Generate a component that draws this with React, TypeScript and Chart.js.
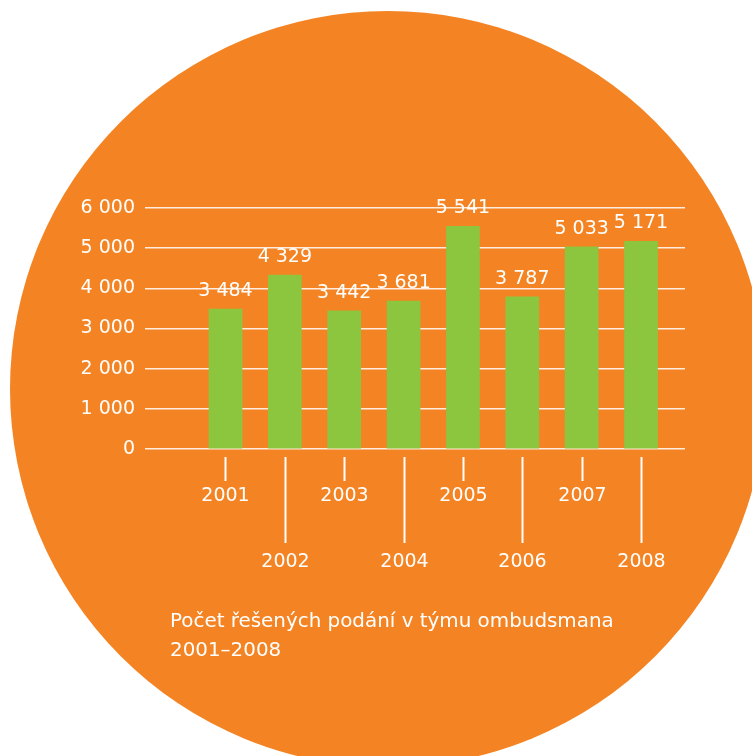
import React, { useEffect, useRef } from "react";
import { Chart, registerables } from "chart.js";

Chart.register(...registerables);

const years = [2001, 2002, 2003, 2004, 2005, 2006, 2007, 2008];
const values = [3484, 4329, 3442, 3681, 5541, 3787, 5033, 5171];
const yTicks = [0, 1000, 2000, 3000, 4000, 5000, 6000];
const caption = ["Počet řešených podání v týmu ombudsmana", "2001–2008"];

const ORANGE = "#F48423";
const GREEN = "#8CC63F";
const WHITE = "#FFFFFF";
const FONT = "'DejaVu Sans', 'Liberation Sans', sans-serif";

const fmt = (v: number) => String(v).replace(/\B(?=(\d{3})+(?!\d))/g, " ");

const labelsPlugin = {
  id: "customLabels",
  afterDatasetsDraw(chart: any) {
    const ctx = chart.ctx;
    const meta = chart.getDatasetMeta(0);
    ctx.save();
    ctx.fillStyle = WHITE;
    ctx.font = `19px ${FONT}`;
    ctx.textAlign = "center";
    ctx.textBaseline = "middle";
    meta.data.forEach((bar: any, i: number) => {
      ctx.fillText(fmt(values[i]), bar.x, bar.y - 18);
    });
    ctx.restore();
  },
  afterDraw(chart: any) {
    const ctx = chart.ctx;
    const xs = chart.scales.x;
    const base = chart.chartArea.bottom;
    ctx.save();
    ctx.strokeStyle = WHITE;
    ctx.fillStyle = WHITE;
    ctx.lineWidth = 2;
    ctx.font = `19px ${FONT}`;
    ctx.textAlign = "center";
    ctx.textBaseline = "middle";
    years.forEach((yr, i) => {
      const x = Math.round(xs.getPixelForValue(yr)) + 0.5;
      const long = i % 2 === 1;
      const y0 = base + 8;
      const y1 = long ? base + 94 : base + 32;
      ctx.beginPath();
      ctx.moveTo(x, y0);
      ctx.lineTo(x, y1);
      ctx.stroke();
      ctx.fillText(String(yr), x, long ? base + 113 : base + 47);
    });
    ctx.restore();
  },
};

export default function App() {
  const ref = useRef<HTMLCanvasElement>(null);
  useEffect(() => {
    if (!ref.current) return;
    const chart = new Chart(ref.current, {
      type: "bar",
      data: {
        datasets: [
          {
            data: years.map((y, i) => ({ x: y, y: values[i] })),
            backgroundColor: GREEN,
            borderWidth: 0,
            barThickness: 33,
          },
        ],
      },
      options: {
        animation: false,
        responsive: false,
        devicePixelRatio: 1,
        layout: { padding: { left: 0, right: 67, top: 208, bottom: 307 } },
        plugins: { legend: { display: false }, tooltip: { enabled: false } },
        scales: {
          x: {
            type: "linear",
            display: false,
            min: 1999.644,
            max: 2008.741,
            offset: false,
          },
          y: {
            min: 0,
            max: 6000,
            afterFit: (s: any) => {
              s.width = 145;
            },
            afterBuildTicks: (s: any) => {
              s.ticks = yTicks.map((v) => ({ value: v }));
            },
            border: { display: false },
            grid: {
              color: "rgba(255,255,255,0.85)",
              lineWidth: 1.5,
              drawTicks: false,
            },
            ticks: {
              color: WHITE,
              padding: 10,
              font: { family: FONT, size: 19 },
              callback: (v: any) => fmt(Number(v)),
            },
          },
        },
      },
      plugins: [labelsPlugin],
    });
    return () => chart.destroy();
  }, []);

  return (
    <div
      style={{
        position: "fixed",
        left: 0,
        top: 0,
        width: 752,
        height: 756,
        overflow: "hidden",
        background: "#FFFFFF",
      }}
    >
      <div
        style={{
          position: "absolute",
          left: 10,
          top: 11,
          width: 756,
          height: 756,
          borderRadius: "50%",
          background: ORANGE,
        }}
      />
      <canvas
        ref={ref}
        width={752}
        height={756}
        style={{ position: "absolute", left: 0, top: 0, width: 752, height: 756 }}
      />
      <div
        style={{
          position: "absolute",
          left: 170,
          top: 606,
          color: WHITE,
          fontFamily: FONT,
          fontSize: 19.9,
          lineHeight: "29px",
          whiteSpace: "nowrap",
        }}
      >
        {caption.map((c, i) => (
          <div key={i}>{c}</div>
        ))}
      </div>
    </div>
  );
}
